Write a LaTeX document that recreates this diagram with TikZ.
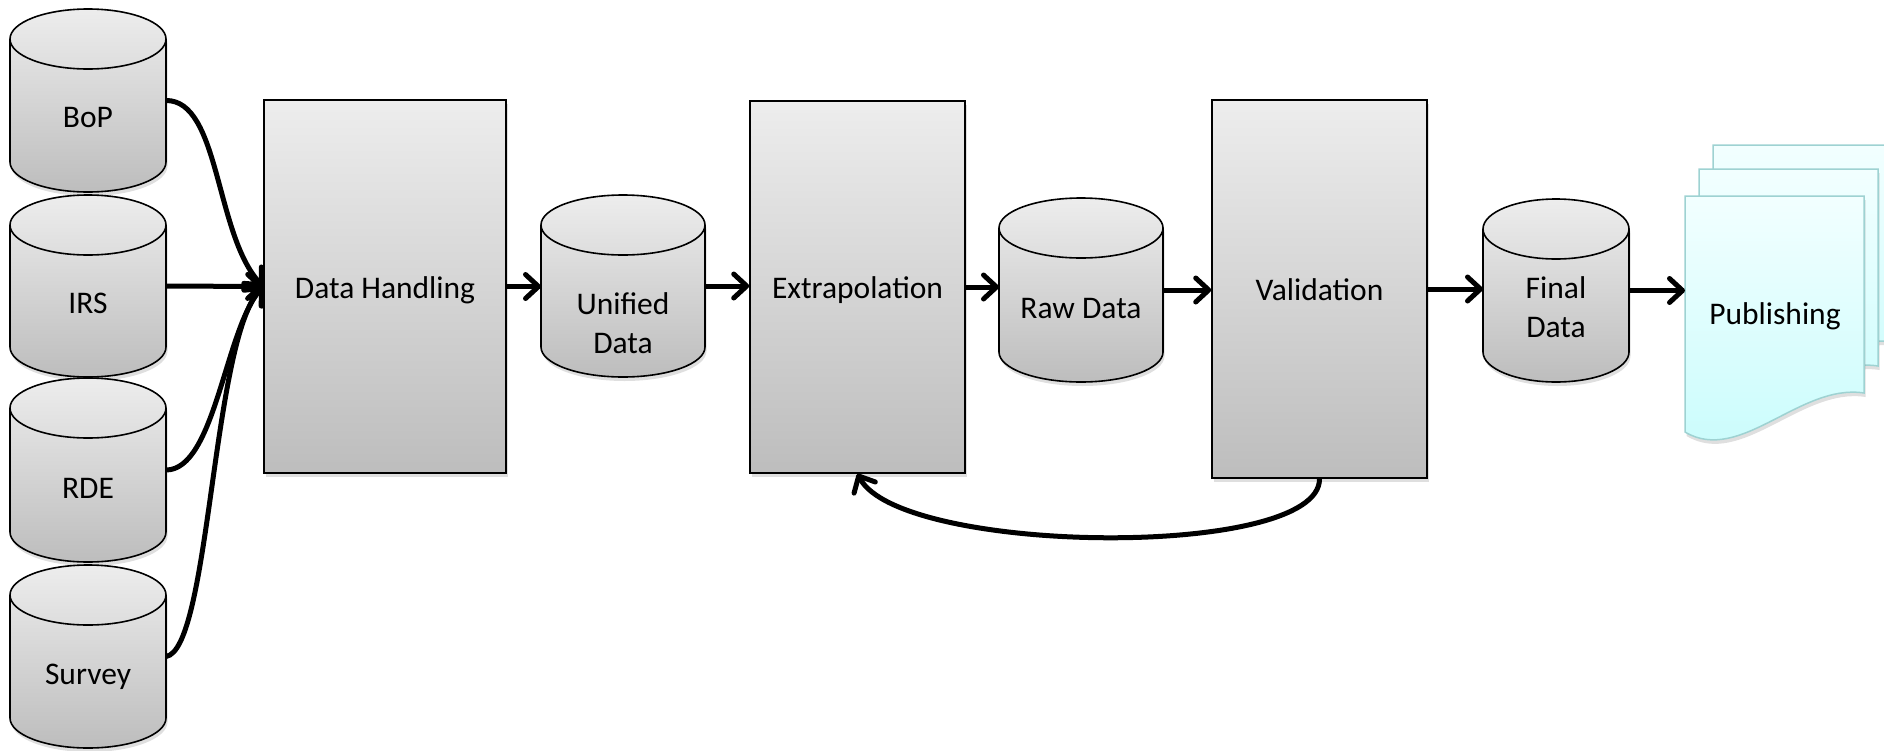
\documentclass[tikz,border=0pt]{standalone}
\usepackage{fontspec}
\setmainfont{Carlito}
\usetikzlibrary{arrows.meta,shadows,calc}
\definecolor{boxtop}{HTML}{EDEDED}
\definecolor{boxbot}{HTML}{BDBDBD}
\definecolor{doctop}{HTML}{F2FFFF}
\definecolor{docbot}{HTML}{C8FCFC}
\definecolor{docline}{HTML}{9ED2D2}
\tikzset{
  softshadow/.style={drop shadow={opacity=0.25, shadow xshift=1.5pt, shadow yshift=-4pt}},
  procbox/.style={draw=black, line width=1.6pt, top color=boxtop, bottom color=boxbot,
    softshadow, font=\fontsize{31.5}{39}\selectfont, inner sep=0pt, text height=23pt, text depth=0pt},
  cylbody/.style={draw=black, line width=1.6pt, top color=boxtop, bottom color=boxbot, softshadow},
  cylrim/.style={draw=black, line width=1.6pt},
  anchorbox/.style={inner sep=0pt, outer sep=0pt},
  lbl/.style={font=\fontsize{31.5}{39}\selectfont, inner sep=0pt, align=center, anchor=base},
  flow/.style={line width=5pt, -{Straight Barb[length=13pt,width=24pt,round]}},
  docpage/.style={draw=docline, line width=1.5pt, top color=doctop, bottom color=docbot, softshadow},
}
% #1 name, #2 left, #3 top, #4 right, #5 bottom, #6 baseline of last text line, #7 text
\newcommand\dbcyl[7]{%
  \pgfmathsetmacro\cylrx{(#4-#2)/2}%
  \pgfmathsetmacro\cylcx{(#4+#2)/2}%
  \pgfmathsetmacro\cylcy{(#5+#3)/2}%
  \pgfmathsetmacro\cylw{#4-#2}%
  \pgfmathsetmacro\cylh{#5-#3}%
  \path[cylbody] (#2,#3+30) -- (#2,#5-30)
     arc[start angle=180,end angle=0,x radius=\cylrx,y radius=30]
     -- (#4,#3+30) arc[start angle=0,end angle=-180,x radius=\cylrx,y radius=30] -- cycle;
  \draw[cylrim] (#2,#3+30) arc[start angle=180,end angle=0,x radius=\cylrx,y radius=30];
  \node[anchorbox, minimum width=\cylw pt, minimum height=\cylh pt] (#1) at (\cylcx,\cylcy) {};
  \node[lbl] (#1-text) at (\cylcx,#6) {#7};
}
% #1 x shift, #2 upward shift
\newcommand\docsheet[2]{%
  \path[docpage] (1685+#1,196-#2) -- (1864+#1,196-#2) -- (1864+#1,393-#2)
    .. controls (1800+#1,383-#2) and (1740+#1,465-#2) .. (1685+#1,432-#2) -- cycle;
}
\begin{document}
\begin{tikzpicture}[x=1pt,y=-1pt]
\useasboundingbox (0,0) rectangle (1884,750);

% sources
\dbcyl{bop}{10}{9}{166}{192}{127}{BoP}
\dbcyl{irs}{10}{195}{166}{377}{313}{IRS}
\dbcyl{rde}{10}{378}{166}{562}{498}{RDE}
\dbcyl{survey}{10}{565}{166}{748}{684}{Survey}

% process boxes
\node[procbox, minimum width=242pt, minimum height=373pt] (dh) at (385,286.5) {Data Handling};
\node[procbox, minimum width=215pt, minimum height=372pt] (ex) at (857.5,287) {Extrapolation};
\node[procbox, minimum width=215pt, minimum height=378pt] (val) at (1319.5,289) {Validation};

% intermediate stores
\dbcyl{unified}{541}{195}{705}{377}{353}{Unified\\Data}
\dbcyl{raw}{999}{198}{1163}{382}{318}{Raw Data}
\dbcyl{final}{1483}{199}{1629}{382}{337}{Final\\Data}

% publishing stack
\docsheet{28}{51}
\docsheet{14}{27}
\docsheet{0}{0}
\node[anchorbox, minimum width=179pt, minimum height=197pt] (pub) at (1774.5,294.5) {};
\node[lbl] (pub-text) at (1775,324) {Publishing};

% connectors
\draw[flow] (bop.east) .. controls (220,100) and (215,235) .. (dh.west);
\draw[flow] (irs.east) -- (dh.west);
\draw[flow] (rde.east) .. controls (215,470) and (225,330) .. (dh.west);
\draw[flow] (survey.east) .. controls (210,650) and (212,340) .. (dh.west);
\draw[flow] (dh.east) -- (dh.east -| unified.west);
\draw[flow] (unified.east) -- (unified.east -| ex.west);
\draw[flow] (ex.east) -- (ex.east -| raw.west);
\draw[flow] (raw.east) -- (raw.east -| val.west);
\draw[flow] (val.east) -- (val.east -| final.west);
\draw[flow] (final.east) -- (final.east -| pub.west);
\draw[flow] (val.south) .. controls (1320,560) and (900,555) .. (ex.south);
\end{tikzpicture}
\end{document}
